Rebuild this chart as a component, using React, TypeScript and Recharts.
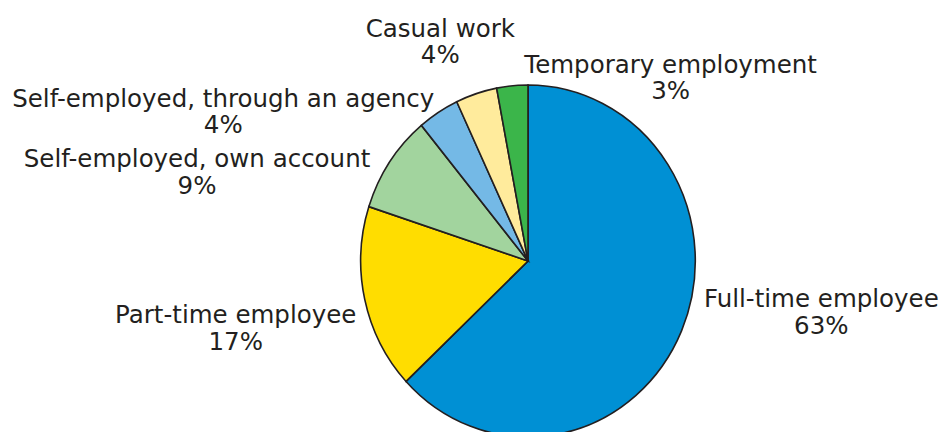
import React from "react";
import { PieChart, Pie, Cell } from "recharts";

const categories = [
  "Full-time employee",
  "Part-time employee",
  "Self-employed, own account",
  "Self-employed, through an agency",
  "Casual work",
  "Temporary employment",
];
const shares = [63, 17, 9, 4, 4, 3];
const colors = ["#0090D4", "#FFDD00", "#A2D49E", "#74B9E6", "#FFEB9C", "#3BB54A"];

// label layout: offset from the slice's outer-edge midpoint (visual px)
const labelOffsets = [
  { dx: 139.8, dy: -23.6 },
  { dx: -129, dy: 23.9 },
  { dx: -192.6, dy: 5.2 },
  { dx: -215.1, dy: -5.7 },
  { dx: -36, dy: -56.9 },
  { dx: 158.4, dy: -13.1 },
];

const data = categories.map((name, i) => ({ name, value: shares[i] }));

const CX = 528;
const CY = 261;
const R = 167.3;
const S = 1.052; // vertical stretch of the reference ellipse
const RAD = Math.PI / 180;
const FONT = "'DejaVu Sans', sans-serif";

const renderLabel = (props: any) => {
  const { cx, cy, midAngle, outerRadius, index, name, value } = props;
  const ax = cx + outerRadius * Math.cos(-midAngle * RAD);
  const ayv = cy + outerRadius * Math.sin(-midAngle * RAD) * S;
  const o = labelOffsets[index];
  const tx = ax + o.dx;
  const tyv = ayv + o.dy;
  const ty = cy + (tyv - cy) / S;
  return (
    <text
      key={`lbl-${index}`}
      transform={`translate(${tx} ${ty}) scale(1 ${1 / S})`}
      x={0}
      y={0}
      textAnchor="middle"
      fill="#231f20"
      style={{ fontFamily: FONT, fontSize: 24.5 }}
    >
      <tspan x={0} y={0}>{name}</tspan>
      <tspan x={0} dy={26.5}>{`${value}%`}</tspan>
    </text>
  );
};

export default function App() {
  return (
    <div
      style={{
        position: "absolute",
        left: 0,
        top: 0,
        width: 941,
        height: 432,
        overflow: "hidden",
        background: "#fff",
      }}
    >
      <div style={{ transform: `scaleY(${S})`, transformOrigin: `0px ${CY}px` }}>
        <PieChart width={941} height={432} margin={{ top: 0, right: 0, bottom: 0, left: 0 }}>
          <Pie
            data={data}
            dataKey="value"
            nameKey="name"
            cx={CX}
            cy={CY}
            outerRadius={R}
            startAngle={90}
            endAngle={-270}
            stroke="#231f20"
            strokeWidth={1.6}
            label={renderLabel}
            labelLine={false}
            isAnimationActive={false}
          >
            {data.map((d, i) => (
              <Cell key={d.name} fill={colors[i]} />
            ))}
          </Pie>
        </PieChart>
      </div>
    </div>
  );
}
